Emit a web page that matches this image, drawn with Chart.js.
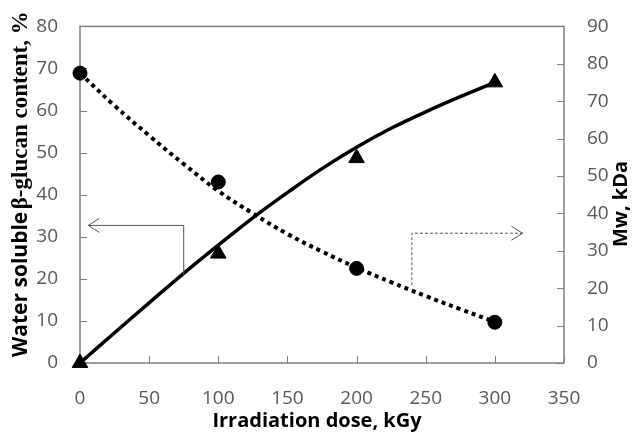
<!DOCTYPE html>
<html>
<head>
<meta charset="utf-8">
<script src="https://cdn.jsdelivr.net/npm/chart.js@4.4.1/dist/chart.umd.min.js"></script>
<style>
  html, body { margin: 0; padding: 0; background: #fff; }
  #wrap { width: 633px; height: 439px; }
</style>
</head>
<body>
<div id="wrap"><canvas id="chart" width="633" height="439"></canvas></div>
<script>
// Measured points
const doses = [0, 100, 200, 300];
const glucanContent = [0, 26, 48.7, 66.7];   // %, left axis
const mwValues = [77.5, 48.4, 25.3, 10.9];   // kDa, right axis

// Trend lines
const fitDoses = [0, 25, 50, 75, 100, 125, 150, 175, 200, 225, 250, 275, 300];
const glucanFit = [0, 7.2, 14.3, 21.3, 28, 34.5, 40.5, 46.2, 51.3, 55.8, 59.7, 63.3, 66.7];
const mwFit = [77.5, 68.8, 60.8, 53.2, 46, 40, 34.5, 29.8, 25.5, 21.6, 17.9, 14.4, 11];

// Arrow annotations (data units): [x, y] corner path
const leftArrow = [[75, 21], [75, 32.7], [6, 32.7]];     // left axis units
const rightArrow = [[240, 20.8], [240, 34.7], [320, 34.7]]; // right axis units

const TICK_COLOR = '#595959';
const AXIS_COLOR = '#7f7f7f';

const toPts = (xs, ys) => xs.map((x, i) => ({ x, y: ys[i] }));

// Draws box frame + inside tick marks, arrows and axis titles
const frameAndTicks = {
  id: 'frameAndTicks',
  beforeDatasetsDraw(chart) {
    const { ctx, chartArea: a, scales } = chart;
    ctx.save();
    ctx.strokeStyle = AXIS_COLOR;
    ctx.lineWidth = 1.5;
    ctx.strokeRect(a.left, a.top, a.right - a.left, a.bottom - a.top);
    ctx.lineWidth = 1;
    ctx.beginPath();
    scales.x.ticks.forEach(t => {
      const px = Math.round(scales.x.getPixelForValue(t.value)) + 0.5;
      ctx.moveTo(px, a.bottom);
      ctx.lineTo(px, a.bottom - 7);
    });
    scales.y.ticks.forEach(t => {
      const py = Math.round(scales.y.getPixelForValue(t.value)) + 0.5;
      ctx.moveTo(a.left, py);
      ctx.lineTo(a.left + 7, py);
    });
    scales.y1.ticks.forEach(t => {
      const py = Math.round(scales.y1.getPixelForValue(t.value)) + 0.5;
      ctx.moveTo(a.right, py);
      ctx.lineTo(a.right - 7, py);
    });
    ctx.stroke();
    ctx.restore();
  },
  afterDatasetsDraw(chart) {
    const { ctx, scales } = chart;
    const drawArrow = (path, yScale, dir, dash) => {
      const pts = path.map(([x, y]) => [scales.x.getPixelForValue(x), yScale.getPixelForValue(y)]);
      ctx.save();
      ctx.strokeStyle = '#555';
      ctx.lineWidth = 1;
      ctx.setLineDash(dash);
      ctx.beginPath();
      ctx.moveTo(pts[0][0], pts[0][1]);
      pts.slice(1).forEach(p => ctx.lineTo(p[0], p[1]));
      ctx.stroke();
      ctx.setLineDash([]);
      const [tx, ty] = pts[pts.length - 1];
      ctx.beginPath();
      ctx.moveTo(tx - dir * 11, ty - 7);
      ctx.lineTo(tx, ty);
      ctx.lineTo(tx - dir * 11, ty + 7);
      ctx.stroke();
      ctx.restore();
    };
    drawArrow(leftArrow, scales.y, -1, []);
    drawArrow(rightArrow, scales.y1, 1, [3, 2]);

    // axis titles
    ctx.save();
    ctx.fillStyle = '#000';
    ctx.textBaseline = 'middle';
    ctx.textAlign = 'center';
    ctx.font = 'bold 20px "Open Sans"';
    ctx.fillText('Irradiation dose, kGy', 317, 421);

    ctx.save();
    ctx.translate(621, 204);
    ctx.rotate(-Math.PI / 2);
    ctx.fillText('Mw, kDa', 0, 0);
    ctx.restore();

    // left title: mixed sans + serif like the original
    ctx.save();
    ctx.translate(21, 357);
    ctx.rotate(-Math.PI / 2);
    ctx.textAlign = 'left';
    const partA = 'Water soluble ';
    const partB = '\u03b2-glucan content, %';
    ctx.font = 'bold 21px "Open Sans"';
    const wA = ctx.measureText(partA).width;
    ctx.fillText(partA, 0, 0);
    ctx.font = 'bold 23px "Liberation Serif"';
    ctx.fillText(partB, wA - 3, 0);
    ctx.restore();
    ctx.restore();
  }
};

new Chart(document.getElementById('chart'), {
  type: 'scatter',
  data: {
    datasets: [
      {
        label: 'Water soluble \u03b2-glucan content',
        data: toPts(doses, glucanContent),
        yAxisID: 'y',
        pointStyle: 'triangle',
        pointRadius: 9,
        backgroundColor: '#000',
        borderColor: '#000',
        clip: false,
        order: 0
      },
      {
        label: 'Mw',
        data: toPts(doses, mwValues),
        yAxisID: 'y1',
        pointStyle: 'circle',
        pointRadius: 7,
        backgroundColor: '#000',
        borderColor: '#000',
        clip: false,
        order: 0
      },
      {
        label: 'glucan trend',
        data: toPts(fitDoses, glucanFit),
        yAxisID: 'y',
        showLine: true,
        pointRadius: 0,
        borderColor: '#000',
        borderWidth: 3.5,
        tension: 0.4,
        clip: false,
        order: 1
      },
      {
        label: 'Mw trend',
        data: toPts(fitDoses, mwFit),
        yAxisID: 'y1',
        showLine: true,
        pointRadius: 0,
        borderColor: '#000',
        borderWidth: 4,
        borderDash: [4, 4],
        borderCapStyle: 'butt',
        tension: 0.4,
        clip: false,
        order: 1
      }
    ]
  },
  options: {
    responsive: false,
    animation: false,
    events: [],
    layout: { padding: { top: 19, left: 0, right: 0, bottom: 0 } },
    plugins: { legend: { display: false }, tooltip: { enabled: false } },
    scales: {
      x: {
        type: 'linear',
        min: 0, max: 350,
        grid: { display: false },
        border: { display: false },
        ticks: { stepSize: 50, padding: 16, color: TICK_COLOR, font: { family: 'Open Sans', size: 19 } },
        afterFit: s => { s.height = 76; }
      },
      y: {
        position: 'left',
        min: 0, max: 80,
        grid: { display: false },
        border: { display: false },
        ticks: { stepSize: 10, padding: 14, color: TICK_COLOR, font: { family: 'Open Sans', size: 19 } },
        afterFit: s => { s.width = 80; }
      },
      y1: {
        position: 'right',
        min: 0, max: 90,
        grid: { display: false },
        border: { display: false },
        ticks: { stepSize: 10, padding: 15, color: TICK_COLOR, font: { family: 'Open Sans', size: 19 } },
        afterFit: s => { s.width = 69; }
      }
    }
  },
  plugins: [frameAndTicks]
});
</script>
</body>
</html>
